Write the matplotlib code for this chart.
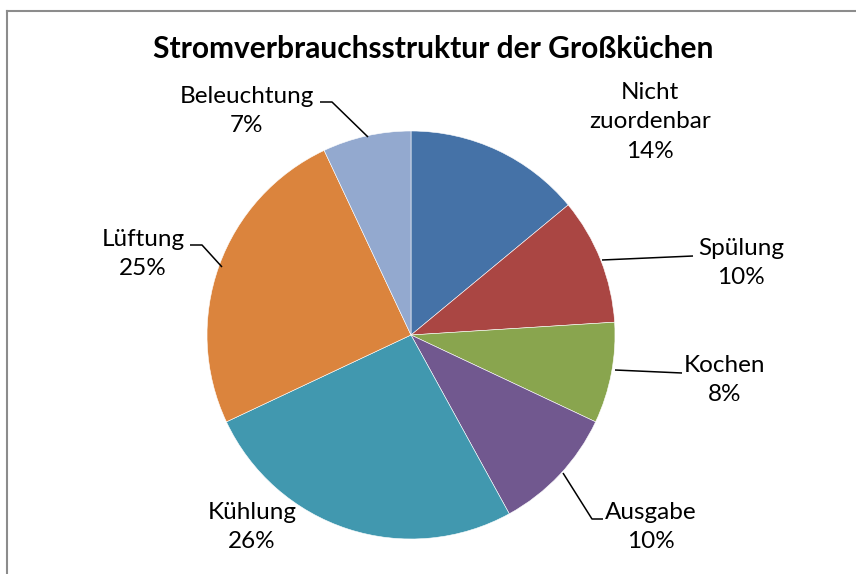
import matplotlib
matplotlib.use("Agg")
import matplotlib.pyplot as plt

categories = ["Nicht\nzuordenbar", "Spülung", "Kochen", "Ausgabe", "Kühlung", "Lüftung", "Beleuchtung"]
values = [14, 10, 8, 10, 26, 25, 7]
colors = ["#4572A7", "#AA4643", "#89A54E", "#71588F", "#4198AF", "#DB843D", "#93A9CF"]
title = "Stromverbrauchsstruktur der Großküchen"

W, H = 856, 574
fig = plt.figure(figsize=(W / 100, H / 100), dpi=100)
ax = fig.add_axes([0, 0, 1, 1])

font = ["Lato", "DejaVu Sans"]

# pie (y axis inverted -> counterclock=True renders clockwise on screen)
cx, cy, r = 411, 335, 204
ax.pie(values, colors=colors, startangle=-90, counterclock=True,
       center=(cx, cy), radius=r, frame=True,
       wedgeprops=dict(edgecolor="white", linewidth=0.4))
ax.set_xlim(0, W)
ax.set_ylim(H, 0)
ax.set_aspect("equal")
ax.axis("off")

# label positions (pixel coordinates, layout only)
label_pos = [(650, 122), (741, 263), (725, 380), (651, 527), (252, 527), (143, 254), (247, 111)]
for cat, v, (x, y) in zip(categories, values, label_pos):
    ax.text(x, y, f"{cat}\n{v:.0f}%", ha="center", va="center", fontsize=17.5,
            family=font, color="black", linespacing=1.5)

leaders = [
    [(320, 102), (332, 102), (368, 137)],
    [(602, 260), (693, 256)],
    [(615, 370), (682, 373)],
    [(563, 473), (592, 519), (603, 519)],
    [(190, 245), (202, 245), (222, 267)],
]
for pts in leaders:
    xs, ys = zip(*pts)
    ax.plot(xs, ys, color="black", lw=1.1, solid_capstyle="butt")

ax.text(433, 49, title, ha="center", va="center", fontsize=21.5, fontweight="bold",
        family=font, color="black")

# chart border (top and left visible)
ax.plot([7, W], [11, 11], color="#8c8c8c", lw=1.5, clip_on=False)
ax.plot([7, 7], [11, H], color="#8c8c8c", lw=1.5, clip_on=False)

fig.savefig("out.png", dpi=100)
